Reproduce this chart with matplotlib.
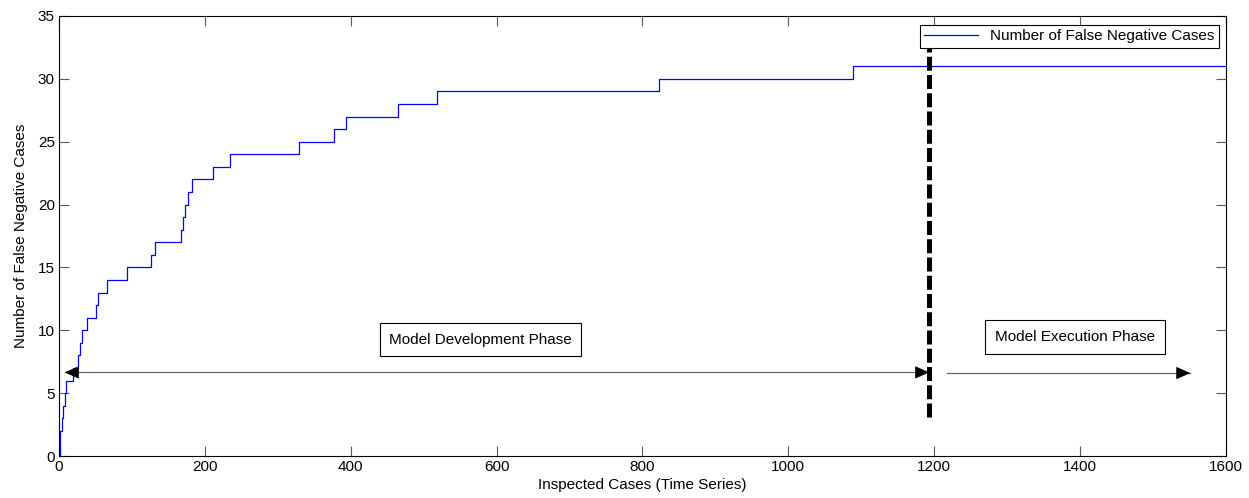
import numpy as np
import matplotlib
matplotlib.use("Agg")
import matplotlib.pyplot as plt

plt.rcParams['font.family'] = ['Liberation Sans', 'DejaVu Sans']

# change points of the cumulative false negative count (step plot, post)
step_x = [0, 1, 2, 4, 6, 8, 9, 10, 19, 26, 29, 31, 39, 51, 54, 66, 93, 126, 132,
          167.6, 170, 173, 176.7, 183, 211, 234.7, 328.8, 376.7, 393, 465, 517.8,
          822.5, 1089, 1600]
fn_count = [0, 1, 2, 3, 4, 5, 5, 6, 7, 8, 9, 10, 11, 12, 13, 14, 15, 16, 17,
            18, 19, 20, 21, 22, 23, 24, 25, 26, 27, 28, 29,
            30, 31, 31]

x_ticks = [0, 200, 400, 600, 800, 1000, 1200, 1400, 1600]
y_ticks = [0, 5, 10, 15, 20, 25, 30, 35]

phase_split = 1193
dev_arrow = (8, 1193)
exec_arrow = (1217, 1551)
arrow_y = 6.65
FS = 11

fig = plt.figure(figsize=(12.49, 4.98), dpi=100)
ax = fig.add_axes([0.0472, 0.0843, 0.9344, 0.8836])

ax.step(step_x, fn_count, where='post', color='#0000ff', lw=0.9,
        label='Number of False Negative Cases')

# phase split marker
ax.plot([phase_split, phase_split], [3.1, 32.5], color='black', lw=3.6,
        linestyle=(0, (2.8, 0.85)), solid_capstyle='butt', zorder=3)

# arrow shafts (grey) and heads (black)
head = dict(arrowstyle='-|>,head_length=0.9,head_width=0.4', color='black',
            lw=0.6, shrinkA=0, shrinkB=0, mutation_scale=10)
ax.plot(dev_arrow, [arrow_y, arrow_y], color='0.4', lw=0.9)
ax.annotate('', xy=(dev_arrow[0], arrow_y), xytext=(dev_arrow[0] + 18, arrow_y), arrowprops=head)
ax.annotate('', xy=(dev_arrow[1], arrow_y), xytext=(dev_arrow[1] - 18, arrow_y), arrowprops=head)
ax.plot(exec_arrow, [arrow_y - 0.05] * 2, color='0.4', lw=0.9)
ax.annotate('', xy=(exec_arrow[1], arrow_y - 0.05), xytext=(exec_arrow[1] - 18, arrow_y - 0.05),
            arrowprops=head)

ax.text(578, 9.26, 'Model Development Phase', ha='center', va='center', fontsize=FS,
        bbox=dict(boxstyle='square,pad=0.6', fc='white', ec='black', lw=0.8))
ax.text(1393, 9.5, 'Model Execution Phase', ha='center', va='center', fontsize=FS,
        bbox=dict(boxstyle='square,pad=0.65', fc='white', ec='black', lw=0.8))

ax.set_xlim(0, 1600)
ax.set_ylim(0, 35)
ax.set_xticks(x_ticks)
ax.set_yticks(y_ticks)
ax.tick_params(direction='in', length=7, width=0.8, color='0.35', labelsize=FS,
               top=True, right=True, pad=3)
for s in ax.spines.values():
    s.set_linewidth(0.8)

ax.set_xlabel('Inspected Cases (Time Series)', fontsize=FS, labelpad=3)
ax.set_ylabel('Number of False Negative Cases', fontsize=FS, labelpad=7)

leg = ax.legend(loc='upper right', fontsize=FS, fancybox=False, framealpha=1,
                edgecolor='black', borderpad=0.3, handlelength=3.5,
                borderaxespad=0, bbox_to_anchor=(0.994, 0.98))
leg.get_frame().set_linewidth(0.8)
leg.set_zorder(5)

fig.savefig('out.png', dpi=100)
